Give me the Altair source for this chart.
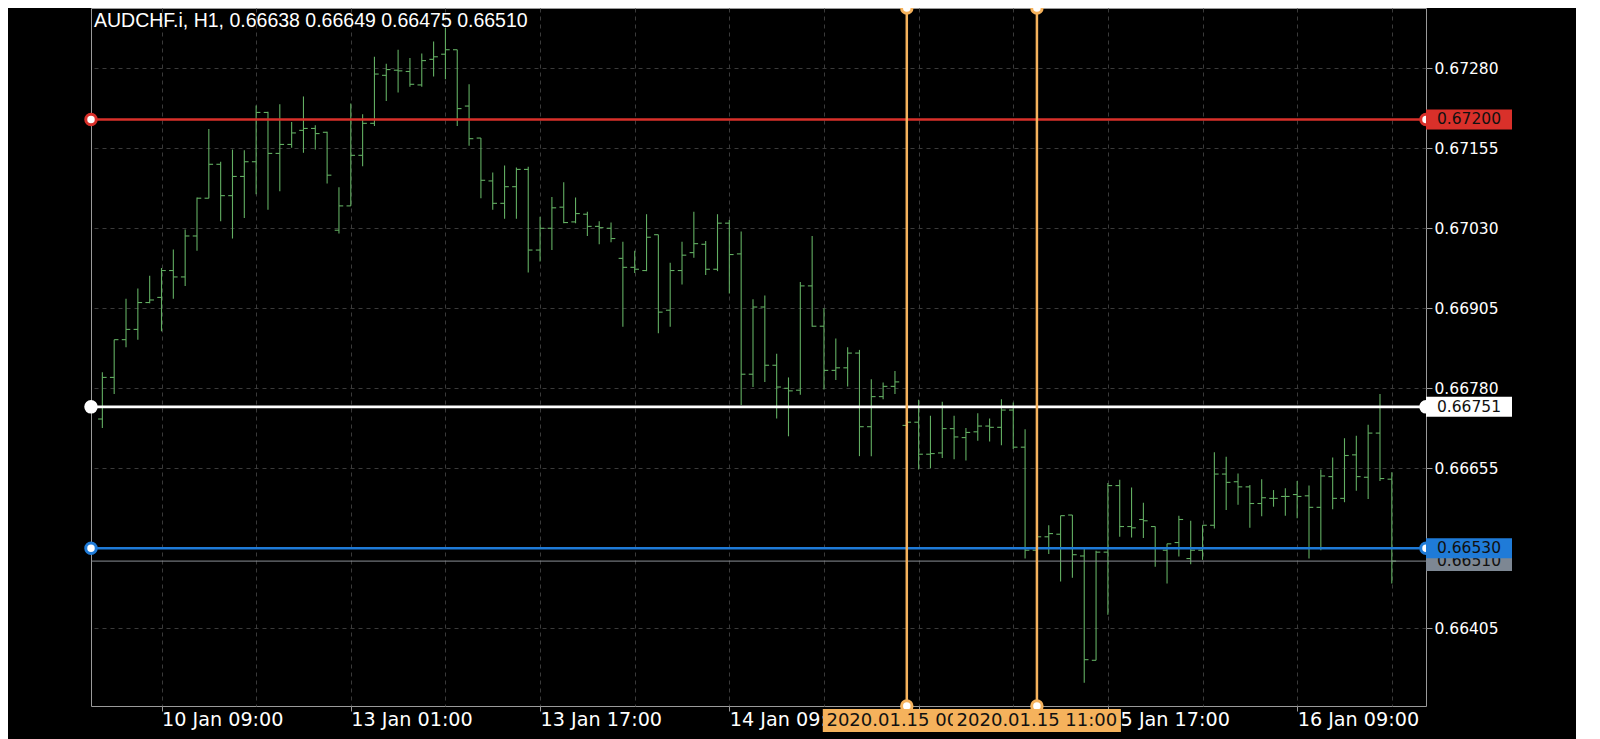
import altair as alt
import pandas as pd

# ---------------- data ----------------
bar_index = list(range(-5, 105))
opens = [0.66732, 0.66797, 0.66856, 0.66872, 0.66914,
         0.66922, 0.66964, 0.66954, 0.67018, 0.67077, 0.67130, 0.67081, 0.67111, 0.67134, 0.67211,
         0.67147, 0.67161, 0.67183, 0.67186, 0.67180, 0.67027, 0.67065, 0.67144, 0.67194, 0.67269,
         0.67277, 0.67275, 0.67254, 0.67294, 0.67302, 0.67309, 0.67221, 0.67171, 0.67104, 0.67069,
         0.67095, 0.67122, 0.66996, 0.67030, 0.67063, 0.67040, 0.67052, 0.67033, 0.67030, 0.66983,
         0.66969, 0.66964, 0.67020, 0.66902, 0.66964, 0.66992, 0.67005, 0.66966, 0.67038, 0.66990,
         0.66802, 0.66907, 0.66816, 0.66780, 0.66777, 0.66940, 0.66877, 0.66808, 0.66812, 0.66835,
         0.66720, 0.66767, 0.66783, 0.66722, 0.66727, 0.66677, 0.66679, 0.66717, 0.66703, 0.66712,
         0.66721, 0.66719, 0.66746, 0.66688, 0.66527, 0.66548, 0.66552, 0.66582, 0.66518, 0.66355,
         0.66524, 0.66628, 0.66564, 0.66575, 0.66564, 0.66527, 0.66539, 0.66514, 0.66527, 0.66566,
         0.66646, 0.66634, 0.66626, 0.66600, 0.66608, 0.66611, 0.66614, 0.66612, 0.66594, 0.66642,
         0.66608, 0.66676, 0.66641, 0.66710, 0.66638]
highs = [0.66805, 0.66856, 0.66920, 0.66936, 0.66956,
         0.66968, 0.66997, 0.67028, 0.67078, 0.67185, 0.67134, 0.67153, 0.67152, 0.67222, 0.67212,
         0.67224, 0.67196, 0.67236, 0.67191, 0.67181, 0.67094, 0.67225, 0.67208, 0.67298, 0.67287,
         0.67309, 0.67296, 0.67303, 0.67322, 0.67343, 0.67309, 0.67255, 0.67171, 0.67117, 0.67128,
         0.67125, 0.67126, 0.67048, 0.67079, 0.67102, 0.67078, 0.67056, 0.67041, 0.67039, 0.67009,
         0.66995, 0.67052, 0.67020, 0.66976, 0.67009, 0.67056, 0.67010, 0.67052, 0.67043, 0.67025,
         0.66919, 0.66925, 0.66834, 0.66797, 0.66946, 0.67018, 0.66905, 0.66858, 0.66844, 0.66840,
         0.66794, 0.66789, 0.66807, 0.66736, 0.66762, 0.66737, 0.66759, 0.66737, 0.66718, 0.66741,
         0.66733, 0.66763, 0.66758, 0.66716, 0.66553, 0.66566, 0.66581, 0.66582, 0.66530, 0.66526,
         0.66632, 0.66637, 0.66625, 0.66601, 0.66564, 0.66537, 0.66581, 0.66573, 0.66566, 0.66680,
         0.66673, 0.66647, 0.66629, 0.66638, 0.66621, 0.66624, 0.66635, 0.66628, 0.66653, 0.66672,
         0.66702, 0.66706, 0.66723, 0.66771, 0.66649]
lows = [0.66718, 0.66771, 0.66844, 0.66856, 0.66913,
        0.66869, 0.66920, 0.66940, 0.66995, 0.67077, 0.67041, 0.67014, 0.67046, 0.67083, 0.67059,
        0.67088, 0.67156, 0.67148, 0.67153, 0.67100, 0.67022, 0.67065, 0.67127, 0.67190, 0.67229,
        0.67242, 0.67251, 0.67251, 0.67267, 0.67263, 0.67190, 0.67159, 0.67077, 0.67059, 0.67045,
        0.67045, 0.66961, 0.66978, 0.66996, 0.67038, 0.67038, 0.67018, 0.67005, 0.67008, 0.66876,
        0.66960, 0.66963, 0.66866, 0.66876, 0.66942, 0.66984, 0.66957, 0.66963, 0.66928, 0.66754,
        0.66782, 0.66790, 0.66733, 0.66705, 0.66770, 0.66876, 0.66778, 0.66793, 0.66783, 0.66674,
        0.66674, 0.66763, 0.66771, 0.66710, 0.66653, 0.66655, 0.66671, 0.66669, 0.66667, 0.66698,
        0.66697, 0.66691, 0.66685, 0.66514, 0.66523, 0.66521, 0.66478, 0.66484, 0.66320, 0.66355,
        0.66426, 0.66548, 0.66547, 0.66546, 0.66501, 0.66475, 0.66517, 0.66505, 0.66512, 0.66561,
        0.66590, 0.66598, 0.66562, 0.66580, 0.66595, 0.66581, 0.66577, 0.66514, 0.66527, 0.66591,
        0.66602, 0.66620, 0.66607, 0.66635, 0.66475]
closes = [0.66797, 0.66856, 0.66872, 0.66914, 0.66918,
          0.66964, 0.66954, 0.67018, 0.67077, 0.67130, 0.67081, 0.67111, 0.67134, 0.67211, 0.67147,
          0.67161, 0.67179, 0.67186, 0.67178, 0.67113, 0.67065, 0.67144, 0.67194, 0.67271, 0.67278,
          0.67276, 0.67255, 0.67292, 0.67298, 0.67309, 0.67217, 0.67170, 0.67105, 0.67069, 0.67095,
          0.67122, 0.66996, 0.67030, 0.67062, 0.67039, 0.67053, 0.67033, 0.67031, 0.67014, 0.66969,
          0.66966, 0.67016, 0.66899, 0.66964, 0.66988, 0.67006, 0.66966, 0.67038, 0.66989, 0.66802,
          0.66907, 0.66816, 0.66782, 0.66776, 0.66940, 0.66877, 0.66808, 0.66812, 0.66835, 0.66720,
          0.66767, 0.66783, 0.66790, 0.66727, 0.66677, 0.66678, 0.66717, 0.66704, 0.66711, 0.66721,
          0.66719, 0.66746, 0.66688, 0.66527, 0.66548, 0.66553, 0.66581, 0.66520, 0.66356, 0.66524,
          0.66628, 0.66564, 0.66562, 0.66573, 0.66530, 0.66537, 0.66575, 0.66527, 0.66566, 0.66646,
          0.66633, 0.66626, 0.66600, 0.66609, 0.66608, 0.66611, 0.66611, 0.66594, 0.66643, 0.66608,
          0.66675, 0.66642, 0.66710, 0.66639, 0.66510]

tick_index = [0, 16, 32, 48, 64, 80, 96]
tick_labels = ["10 Jan 09:00", "13 Jan 01:00", "13 Jan 17:00", "14 Jan 09:00",
               "15 Jan 01:00", "15 Jan 17:00", "16 Jan 09:00"]
grid_index = [0, 8, 16, 24, 32, 40, 48, 56, 64, 72, 80, 88, 96, 104]
price_ticks = [0.67280, 0.67155, 0.67030, 0.66905, 0.66780, 0.66655, 0.66530, 0.66405]

level_prices = [0.67200, 0.66751, 0.66510, 0.66530]
level_colors = ["#d9302a", "#ffffff", "#8a8f96", "#1f7bd8"]
level_box_colors = ["#d9302a", "#ffffff", "#7d8793", "#1f7bd8"]
level_widths = [2.6, 2.6, 1.0, 2.6]
level_handle_fill = ["#ffffff", "#ffffff", None, "#ffffff"]

vline_index = [63, 74]
vline_labels = ["2020.01.15 00:00", "2020.01.15 11:00"]

title_text = "AUDCHF.i, H1, 0.66638 0.66649 0.66475 0.66510"

# ---------------- styling ----------------
W, H = 1335, 698
GREEN = "#62ae62"
ORANGE = "#f5b25c"
GRID = "#3a3a3a"
FRAME = "#9a9a9a"
xs = alt.Scale(domain=[-5.96, 106.89], nice=False, zero=False)
ys = alt.Scale(domain=[0.662836, 0.673742], nice=False, zero=False)

bars = pd.DataFrame({"idx": bar_index, "open": opens, "high": highs,
                     "low": lows, "close": closes})

label_expr = " : ".join(f"datum.value == {i} ? '{t}'" for i, t in zip(tick_index, tick_labels)) + " : ''"

x_axis = alt.Axis(values=grid_index, labelExpr=label_expr, title=None,
                  grid=True, gridColor=GRID, gridDash=[4, 4], gridWidth=1,
                  domain=False, ticks=True, tickSize=5, tickColor=FRAME,
                  tickOpacity={"condition": {"test": "datum.value % 16 == 0", "value": 1}, "value": 0},
                  labelAlign="left", labelBaseline="top", labelPadding=-1,
                  labelColor="#ffffff", labelFont="DejaVu Sans", labelFontSize=19.2,
                  labelOverlap=False, labelFlush=False, labelBound=False)
y_axis = alt.Axis(orient="right", values=price_ticks, format=".5f", title=None,
                  grid=True, gridColor=GRID, gridDash=[4, 4], gridWidth=1,
                  domain=False, tickSize=6, tickColor=FRAME, labelPadding=2,
                  labelColor="#ffffff", labelFont="DejaVu Sans", labelFontSize=15.5,
                  labelOverlap=False, labelFlush=False, labelBound=False)


def X(field):
    return alt.X(field, scale=xs, axis=x_axis)


def Y(field):
    return alt.Y(field, scale=ys, axis=y_axis)


hl = alt.Chart(bars).mark_rule(color=GREEN, strokeWidth=1.1).encode(
    x=X("idx:Q"), y=Y("low:Q"), y2="high:Q")
open_t = alt.Chart(bars).transform_calculate(x0="datum.idx - 0.36").mark_rule(
    color=GREEN, strokeWidth=1.1).encode(x=X("x0:Q"), x2="idx:Q", y=Y("open:Q"))
close_t = alt.Chart(bars).transform_calculate(x1="datum.idx + 0.36").mark_rule(
    color=GREEN, strokeWidth=1.1).encode(x=X("idx:Q"), x2="x1:Q", y=Y("close:Q"))

levels = pd.DataFrame({"price": level_prices, "color": level_colors,
                       "width": level_widths, "box": level_box_colors,
                       "hfill": level_handle_fill,
                       "label": [f"{p:.5f}" for p in level_prices]})

hlines = alt.Chart(levels).mark_rule().encode(
    y=Y("price:Q"),
    color=alt.Color("color:N", scale=None),
    strokeWidth=alt.StrokeWidth("width:Q", scale=None),
)

vdf = pd.DataFrame({"idx": vline_index, "label": vline_labels})
vlines = alt.Chart(vdf).mark_rule(color=ORANGE, strokeWidth=2.5).encode(x=X("idx:Q"))

hdf = levels[levels["hfill"].notna()]
handle_layers = []
for xv in (0, W):
    handle_layers.append(
        alt.Chart(hdf).mark_point(shape="circle", filled=True, size=110, strokeWidth=3,
                                  opacity=1, clip=False).encode(
            x=alt.value(xv), y=Y("price:Q"),
            fill=alt.Fill("hfill:N", scale=None), stroke=alt.Stroke("color:N", scale=None)))
for yv in (0, H):
    handle_layers.append(
        alt.Chart(vdf).mark_point(shape="circle", filled=True, size=110, strokeWidth=3,
                                  opacity=1, clip=False, fill="#ffffff", stroke=ORANGE).encode(
            x=X("idx:Q"), y=alt.value(yv)))

BOX_W, BOX_H = 86, 20
r = BOX_H / BOX_W
box_path = f"M-1,-{r:.4f}L1,-{r:.4f}L1,{r:.4f}L-1,{r:.4f}Z"
box_layers = []
for k in range(len(level_prices)):
    row = levels.iloc[[k]]
    box_layers.append(
        alt.Chart(row).mark_point(shape=box_path, size=BOX_W ** 2, filled=True, opacity=1,
                                  strokeWidth=0, clip=False).encode(
            x=alt.value(W + BOX_W / 2), y=Y("price:Q"),
            fill=alt.Fill("box:N", scale=None)))
    box_layers.append(
        alt.Chart(row).mark_text(font="DejaVu Sans", fontSize=15.5, align="center",
                                 baseline="middle", color="#111111", clip=False).encode(
            x=alt.value(W + BOX_W / 2), y=Y("price:Q"), text="label:N"))

OB_W, OB_H = 168, 23
r2 = OB_H / OB_W
ob_path = f"M-1,-{r2:.4f}L1,-{r2:.4f}L1,{r2:.4f}L-1,{r2:.4f}Z"
ob_layers = []
for k in range(len(vline_index)):
    row = vdf.iloc[[k]]
    ob_layers.append(
        alt.Chart(row).mark_point(shape=ob_path, size=OB_W ** 2, filled=True, opacity=1,
                                  strokeWidth=0, clip=False, color=ORANGE).encode(
            x=X("idx:Q"), y=alt.value(H + 14.4)))
    ob_layers.append(
        alt.Chart(row).mark_text(font="DejaVu Sans", fontSize=18, align="center",
                                 baseline="middle", color="#111111", clip=False).encode(
            x=X("idx:Q"), y=alt.value(H + 15), text="label:N"))

title = alt.Chart(pd.DataFrame({"t": [title_text]})).mark_text(
    align="left", baseline="alphabetic", font="Liberation Sans", fontSize=19.5,
    color="#ffffff").encode(x=alt.value(3), y=alt.value(19.3), text="t:N")

chart = alt.layer(hl, open_t, close_t, hlines, vlines, *handle_layers, *box_layers,
                  *ob_layers, title).properties(
    width=W, height=H,
    autosize=alt.AutoSizeParams(type="none"),
    padding={"left": 83, "top": 0, "right": 150, "bottom": 33},
).configure(background="#000000").configure_view(stroke=FRAME, strokeWidth=1)

chart.save("out.html", embed_options={"renderer": "svg", "actions": False})
